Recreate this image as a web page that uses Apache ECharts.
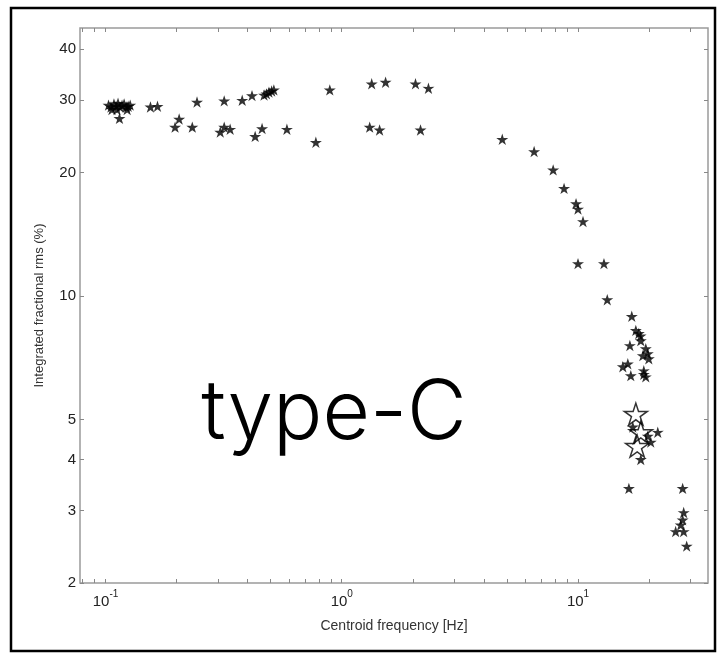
<!DOCTYPE html>
<html>
<head>
<meta charset="utf-8">
<script src="https://cdn.jsdelivr.net/npm/echarts@6/dist/echarts.min.js"></script>
<style>
  html, body { margin: 0; padding: 0; background: #fff; }
  #chart { width: 725px; height: 658px; }
</style>
</head>
<body>
<div id="chart"></div>
<script>
// filled stars: centroid frequency (Hz) and integrated fractional rms (%)
const filledFreq = [
  0.103, 0.1055, 0.1086, 0.1108, 0.113, 0.1152, 0.1175, 0.1199, 0.1223, 0.1247, 0.1272, 0.1065, 0.1119, 0.1235,
  0.1146, 0.155, 0.166, 0.244, 0.318, 0.379, 0.417, 0.469, 0.48, 0.492, 0.505, 0.516,
  0.89, 1.339, 1.533, 2.052, 2.328,
  0.197, 0.205, 0.233, 0.306, 0.318, 0.337, 0.43, 0.46, 0.586, 0.777, 1.313, 1.446, 2.155,
  4.78, 6.52, 7.85, 8.73, 9.81, 10.0, 10.5, 10.0, 12.88, 13.3,
  16.89, 17.57, 18.09, 18.4, 16.58, 18.44, 19.36, 18.81, 19.74, 19.94, 15.48, 16.25, 16.73, 18.99, 19.36, 18.99,
  17.06, 21.76, 20.32, 19.74, 18.44,
  16.42, 27.73, 28.01, 27.73, 27.2, 25.9, 28.01, 28.84
];
const filledRms = [
  29.2, 28.9, 29.4, 29.0, 29.5, 28.9, 29.2, 29.4, 28.9, 29.0, 29.2, 28.5, 28.5, 28.5,
  27.1, 28.9, 29.0, 29.7, 29.9, 30.0, 30.8, 30.9, 31.1, 31.4, 31.6, 31.8,
  31.8, 32.9, 33.2, 32.9, 32.1,
  25.8, 27.0, 25.8, 25.1, 25.8, 25.5, 24.5, 25.6, 25.5, 23.7, 25.8, 25.4, 25.4,
  24.1, 22.5, 20.3, 18.3, 16.8, 16.3, 15.2, 12.0, 12.0, 9.8,
  8.93, 8.25, 8.11, 8.0, 7.58, 7.79, 7.45, 7.16, 7.24, 7.04, 6.73, 6.84, 6.4, 6.58, 6.36, 6.45,
  4.8, 4.66, 4.41, 4.56, 4.0,
  3.4, 3.4, 2.97, 2.85, 2.77, 2.67, 2.67, 2.46
];
// open (hollow) stars
const openFreq = [17.57, 18.44, 17.8];
const openRms = [5.16, 4.66, 4.31];

const xLabelValues = [0.1, 1, 10];
const xTickValues = [0.08, 0.09, 0.1, 0.2, 0.3, 0.4, 0.5, 0.6, 0.7, 0.8, 0.9, 1, 2, 3, 4, 5, 6, 7, 8, 9, 10, 20, 30];
const yTickValues = [2, 3, 4, 5, 10, 20, 30, 40];

const starPath = 'path://M50 0 L61.17 34.63 L97.55 34.55 L68.07 55.87 L79.39 90.45 L50 69 L20.61 90.45 L31.93 55.87 L2.45 34.55 L38.83 34.63 Z';

const filledData = filledFreq.map((f, i) => [f, filledRms[i]]);
const openData = openFreq.map((f, i) => [f, openRms[i]]);

const chart = echarts.init(document.getElementById('chart'), null, { renderer: 'canvas' });

const font = '"Liberation Sans", Arial, sans-serif';
const tickStyle = { lineStyle: { color: '#888', width: 1 } };

const xBase = {
  type: 'log',
  logBase: 10,
  min: 0.078,
  max: 35.5,
  splitLine: { show: false },
  axisLine: { show: false }
};
const yBase = {
  type: 'log',
  logBase: 10,
  min: 2,
  max: 45,
  splitLine: { show: false },
  axisLine: { show: false }
};

chart.setOption({
  animation: false,
  grid: { left: 80, right: 17, top: 28, bottom: 75, show: true, borderColor: '#9a9a9a', borderWidth: 1.5 },
  xAxis: [
    Object.assign({}, xBase, {
      position: 'bottom',
      name: 'Centroid frequency [Hz]',
      nameLocation: 'middle',
      nameGap: 36,
      nameTextStyle: { fontFamily: font, fontSize: 14, color: '#333' },
      axisTick: Object.assign({ show: true, inside: true, length: 4, customValues: xTickValues }, tickStyle),
      axisLabel: {
        customValues: xLabelValues,
        margin: 6,
        formatter: v => '{b|10}{s|' + Math.round(Math.log10(v)) + '}',
        rich: {
          b: { fontFamily: font, fontSize: 15, color: '#222', lineHeight: 20, verticalAlign: 'bottom' },
          s: { fontFamily: font, fontSize: 10, color: '#222', lineHeight: 10, verticalAlign: 'top' }
        }
      }
    }),
    Object.assign({}, xBase, {
      position: 'top',
      axisTick: Object.assign({ show: true, inside: true, length: 4, customValues: xTickValues }, tickStyle),
      axisLabel: { show: false }
    })
  ],
  yAxis: [
    Object.assign({}, yBase, {
      position: 'left',
      name: 'Integrated fractional rms (%)',
      nameLocation: 'middle',
      nameGap: 34,
      nameTextStyle: { fontFamily: font, fontSize: 13, color: '#333' },
      axisTick: Object.assign({ show: true, inside: true, length: 4, customValues: yTickValues }, tickStyle),
      axisLabel: { customValues: yTickValues, fontFamily: font, fontSize: 15, color: '#222', margin: 4 }
    }),
    Object.assign({}, yBase, {
      position: 'right',
      axisTick: Object.assign({ show: true, inside: true, length: 4, customValues: yTickValues }, tickStyle),
      axisLabel: { show: false }
    })
  ],
  graphic: [
    {
      type: 'rect',
      shape: { x: 11, y: 8, width: 704, height: 643 },
      style: { fill: 'none', stroke: '#000', lineWidth: 2.5 },
      silent: true
    },
    {
      type: 'text',
      x: 334,
      y: 414,
      style: {
        text: 'type-C',
        font: '300 82px Inter, Roboto, "Liberation Sans", sans-serif',
        fill: '#000',
        align: 'center',
        verticalAlign: 'middle'
      },
      silent: true
    }
  ],
  series: [
    {
      type: 'scatter',
      xAxisIndex: 0,
      yAxisIndex: 0,
      symbol: starPath,
      symbolKeepAspect: true,
      symbolSize: 12,
      itemStyle: { color: '#000' },
      data: filledData
    },
    {
      type: 'scatter',
      xAxisIndex: 0,
      yAxisIndex: 0,
      symbol: starPath,
      symbolKeepAspect: true,
      symbolSize: 23,
      itemStyle: { color: 'rgba(0,0,0,0)', borderColor: '#000', borderWidth: 1.5 },
      data: openData
    }
  ]
});
</script>
</body>
</html>
